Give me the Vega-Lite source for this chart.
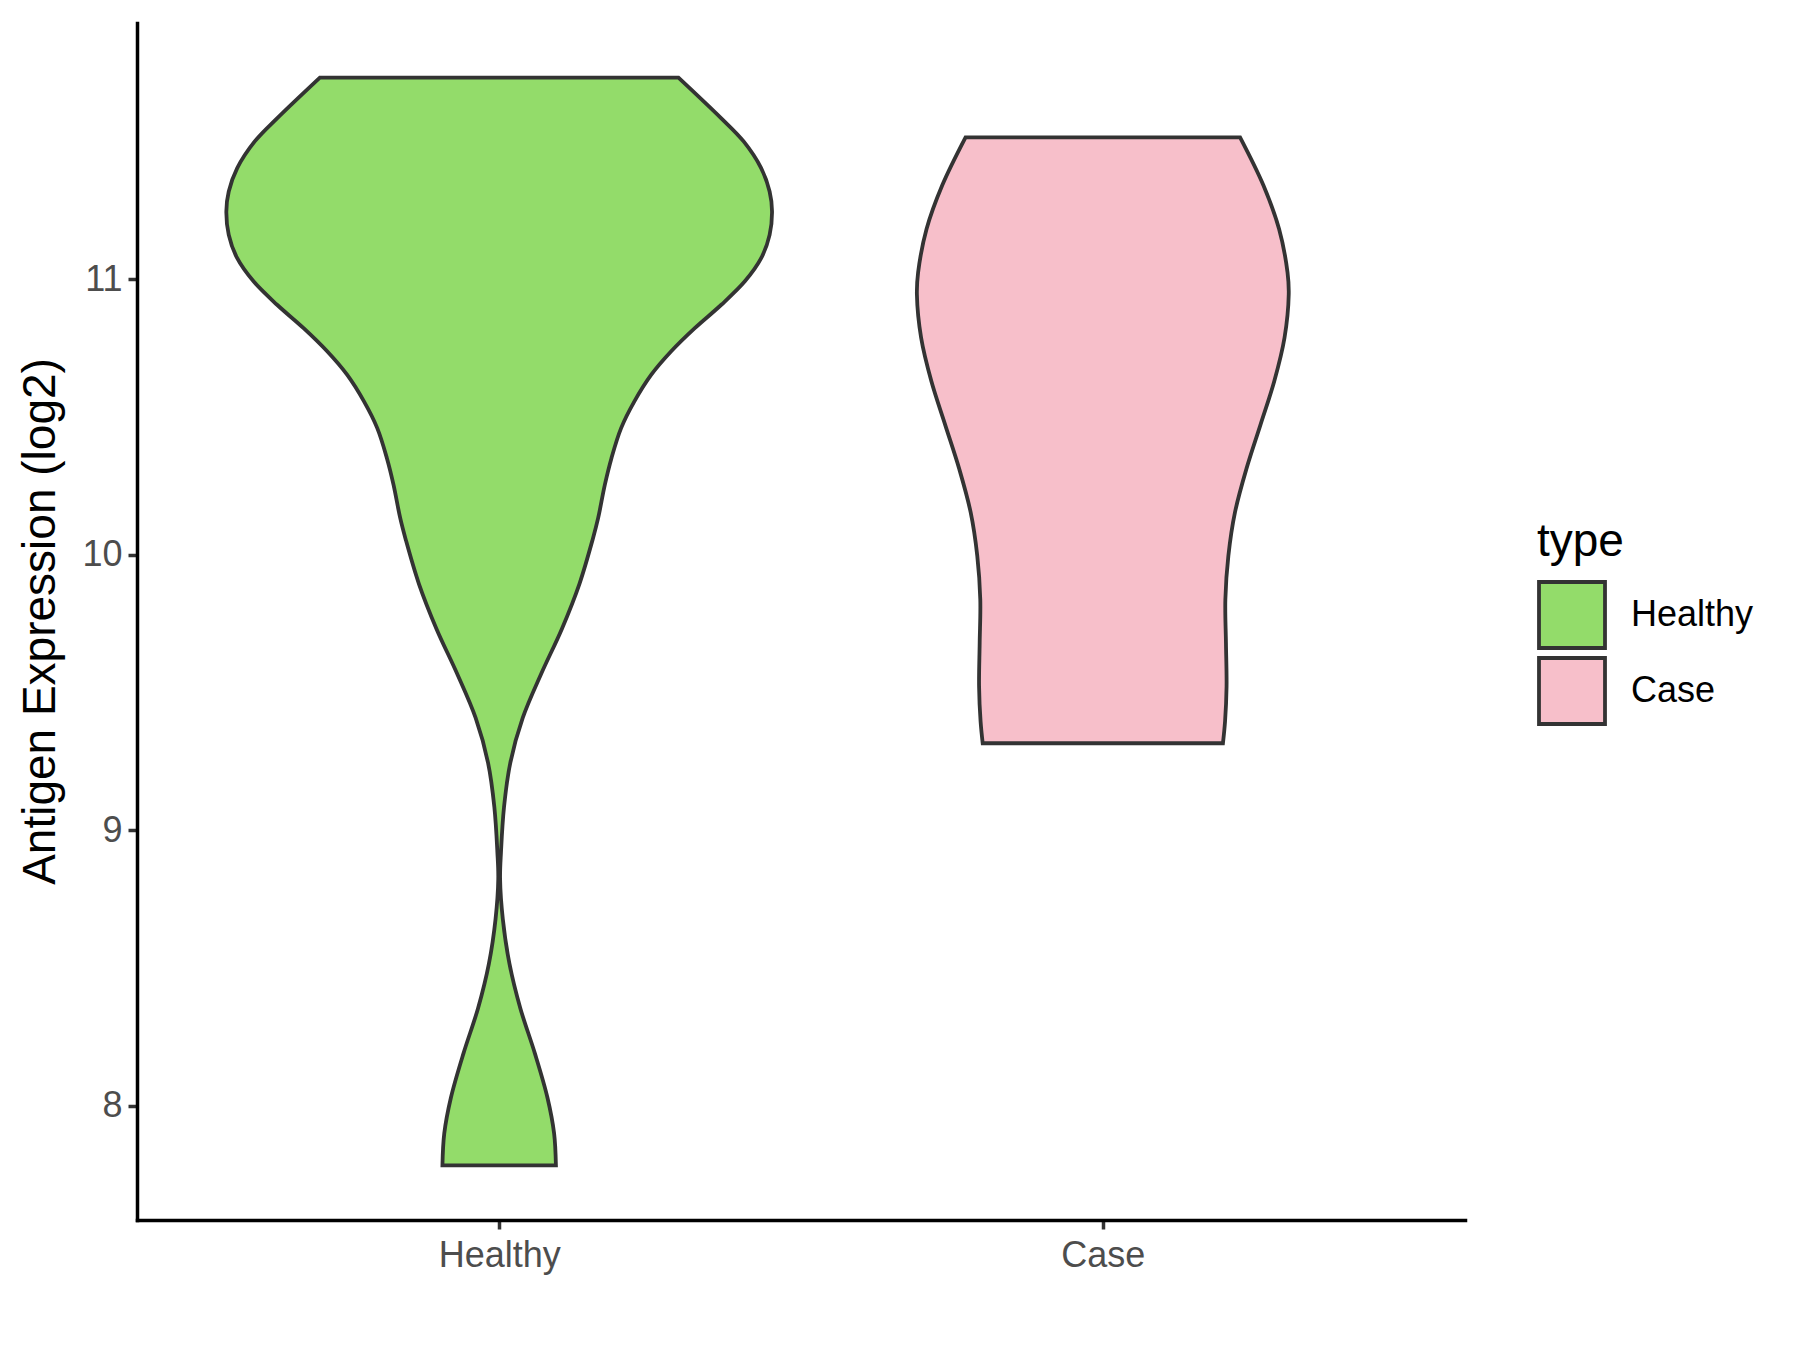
{
  "$schema": "https://vega.github.io/schema/vega-lite/v6.json",
  "width": 1328,
  "height": 1197,
  "autosize": {"type": "none"},
  "padding": {"left": 137, "top": 23, "right": 335, "bottom": 130},
  "background": "white",
  "config": {"view": {"stroke": null}, "font": "Liberation Sans"},
  "data": {
    "values": [
      {"type": "Healthy", "value": 7.783, "halfwidth": 0.094},
      {"type": "Healthy", "value": 7.899, "halfwidth": 0.091},
      {"type": "Healthy", "value": 8.029, "halfwidth": 0.080},
      {"type": "Healthy", "value": 8.191, "halfwidth": 0.059},
      {"type": "Healthy", "value": 8.354, "halfwidth": 0.035},
      {"type": "Healthy", "value": 8.516, "halfwidth": 0.017},
      {"type": "Healthy", "value": 8.678, "halfwidth": 0.006},
      {"type": "Healthy", "value": 8.824, "halfwidth": 0.0015},
      {"type": "Healthy", "value": 8.921, "halfwidth": 0.003},
      {"type": "Healthy", "value": 9.084, "halfwidth": 0.008},
      {"type": "Healthy", "value": 9.246, "halfwidth": 0.0185},
      {"type": "Healthy", "value": 9.408, "halfwidth": 0.039},
      {"type": "Healthy", "value": 9.570, "halfwidth": 0.070},
      {"type": "Healthy", "value": 9.732, "halfwidth": 0.104},
      {"type": "Healthy", "value": 9.895, "halfwidth": 0.133},
      {"type": "Healthy", "value": 10.057, "halfwidth": 0.155},
      {"type": "Healthy", "value": 10.134, "halfwidth": 0.164},
      {"type": "Healthy", "value": 10.254, "halfwidth": 0.175},
      {"type": "Healthy", "value": 10.351, "halfwidth": 0.186},
      {"type": "Healthy", "value": 10.460, "halfwidth": 0.202},
      {"type": "Healthy", "value": 10.557, "halfwidth": 0.224},
      {"type": "Healthy", "value": 10.654, "halfwidth": 0.252},
      {"type": "Healthy", "value": 10.739, "halfwidth": 0.285},
      {"type": "Healthy", "value": 10.823, "halfwidth": 0.324},
      {"type": "Healthy", "value": 10.908, "halfwidth": 0.368},
      {"type": "Healthy", "value": 10.993, "halfwidth": 0.407},
      {"type": "Healthy", "value": 11.077, "halfwidth": 0.434},
      {"type": "Healthy", "value": 11.162, "halfwidth": 0.448},
      {"type": "Healthy", "value": 11.247, "halfwidth": 0.452},
      {"type": "Healthy", "value": 11.319, "halfwidth": 0.448},
      {"type": "Healthy", "value": 11.404, "halfwidth": 0.434},
      {"type": "Healthy", "value": 11.501, "halfwidth": 0.405},
      {"type": "Healthy", "value": 11.585, "halfwidth": 0.368},
      {"type": "Healthy", "value": 11.733, "halfwidth": 0.297},
      {"type": "Case", "value": 9.316, "halfwidth": 0.199},
      {"type": "Case", "value": 9.395, "halfwidth": 0.2025},
      {"type": "Case", "value": 9.522, "halfwidth": 0.205},
      {"type": "Case", "value": 9.680, "halfwidth": 0.204},
      {"type": "Case", "value": 9.838, "halfwidth": 0.203},
      {"type": "Case", "value": 9.997, "halfwidth": 0.208},
      {"type": "Case", "value": 10.155, "halfwidth": 0.219},
      {"type": "Case", "value": 10.313, "halfwidth": 0.238},
      {"type": "Case", "value": 10.471, "halfwidth": 0.261},
      {"type": "Case", "value": 10.630, "halfwidth": 0.284},
      {"type": "Case", "value": 10.788, "halfwidth": 0.301},
      {"type": "Case", "value": 10.946, "halfwidth": 0.308},
      {"type": "Case", "value": 11.025, "halfwidth": 0.306},
      {"type": "Case", "value": 11.183, "halfwidth": 0.292},
      {"type": "Case", "value": 11.342, "halfwidth": 0.266},
      {"type": "Case", "value": 11.516, "halfwidth": 0.2274}
    ]
  },
  "transform": [
    {"calculate": "(datum.type === 'Healthy' ? 1 : 2) - datum.halfwidth", "as": "left"},
    {"calculate": "(datum.type === 'Healthy' ? 1 : 2) + datum.halfwidth", "as": "right"}
  ],
  "mark": {
    "type": "area",
    "orient": "horizontal",
    "interpolate": "catmull-rom",
    "stroke": "#333333",
    "strokeWidth": 3.8,
    "strokeJoin": "miter",
    "opacity": 1
  },
  "encoding": {
    "y": {
      "field": "value",
      "type": "quantitative",
      "scale": {"domain": [7.585, 11.931], "nice": false, "zero": false},
      "axis": {
        "values": [8, 9, 10, 11],
        "title": "Antigen Expression (log2)",
        "grid": false,
        "domainColor": "black",
        "domainWidth": 3.5,
        "domainCap": "square",
        "tickColor": "#333333",
        "tickWidth": 3.5,
        "tickSize": 9,
        "labelFontSize": 36,
        "labelColor": "#4D4D4D",
        "labelPadding": 6,
        "titleFontSize": 46,
        "titleFontWeight": "normal",
        "titleColor": "black",
        "titleX": -97,
        "titleY": 598,
        "titleBaseline": "middle",
        "titleAlign": "center",
        "titleAngle": 270
      }
    },
    "x": {
      "field": "left",
      "type": "quantitative",
      "scale": {"domain": [0.4, 2.6], "nice": false, "zero": false},
      "axis": {
        "values": [1, 2],
        "labelExpr": "datum.value == 1 ? 'Healthy' : 'Case'",
        "title": null,
        "grid": false,
        "domainColor": "black",
        "domainWidth": 3.5,
        "domainCap": "square",
        "tickColor": "#333333",
        "tickWidth": 3.5,
        "tickSize": 9,
        "labelFontSize": 36,
        "labelColor": "#4D4D4D",
        "labelPadding": 9,
        "labelFlush": false
      }
    },
    "x2": {"field": "right"},
    "color": {
      "field": "type",
      "type": "nominal",
      "scale": {"domain": ["Healthy", "Case"], "range": ["#93DC6A", "#F7BFCA"]},
      "legend": {
        "title": "type",
        "orient": "none",
        "legendX": 1400,
        "legendY": 497,
        "padding": 0,
        "titleFontSize": 46,
        "titleFontWeight": "normal",
        "titleColor": "black",
        "titlePadding": 14,
        "labelFontSize": 36,
        "labelColor": "black",
        "labelOffset": 24,
        "symbolType": "square",
        "symbolSize": 4356,
        "symbolStrokeColor": "#333333",
        "symbolStrokeWidth": 3.8,
        "symbolOpacity": 1,
        "rowPadding": -6
      }
    }
  }
}
